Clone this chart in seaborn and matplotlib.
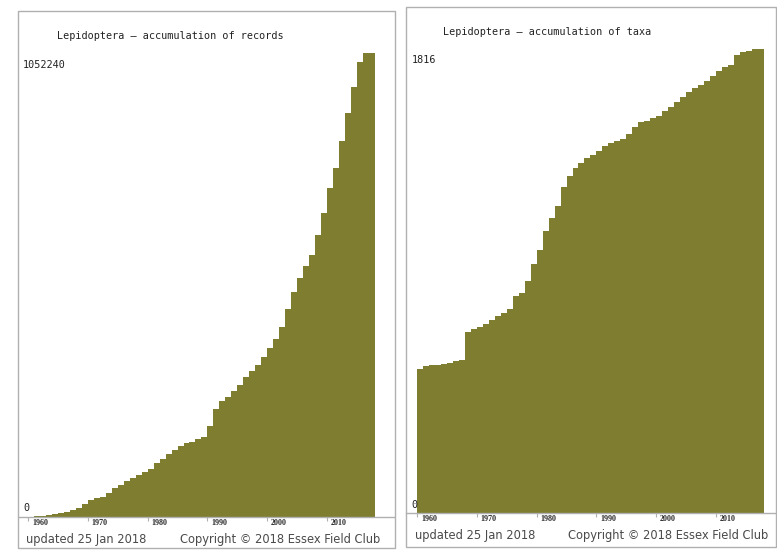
import matplotlib
matplotlib.use("Agg")
import matplotlib.pyplot as plt
from matplotlib.patches import Rectangle
import seaborn as sns

# Data (cumulative totals per year)
years = list(range(1960, 2018))
records = [1600, 2000, 2500, 4500, 6800, 9100, 12700, 16600, 21800, 30800,
           39200, 43100, 46700, 55800, 66400, 73900, 82300, 88400, 95900, 103400,
           109500, 122500, 132200, 142900, 152600, 162400, 169200, 171400, 176900, 182800,
           207700, 245600, 263700, 272800, 286400, 300000, 318200, 331800, 345400, 363500,
           383900, 404300, 431600, 472400, 510900, 542700, 569900, 594800, 640200, 690100,
           746800, 792100, 854000, 916200, 976500, 1031800, 1052240, 1052240]
taxa = [562, 576, 577, 578, 581, 586, 593, 597, 709, 721,
        727, 739, 753, 770, 783, 799, 850, 859, 909, 975,
        1029, 1103, 1153, 1202, 1277, 1319, 1350, 1368, 1390, 1401,
        1417, 1436, 1449, 1457, 1465, 1482, 1512, 1530, 1535, 1545,
        1554, 1572, 1590, 1610, 1629, 1649, 1664, 1675, 1692, 1711,
        1731, 1747, 1753, 1792, 1804, 1809, 1816, 1816]
decades = [1960, 1970, 1980, 1990, 2000, 2010]

OLIVE = "#7e7d30"
GREY = "#b0b0b0"
W, H = 777, 552

fig = plt.figure(figsize=(W / 100, H / 100), dpi=100)


def rect(x0, y0, x1, y1):
    return [x0 / W, 1 - y1 / H, (x1 - x0) / W, (y1 - y0) / H]


def ftext(x, y, s, **kw):
    fig.text(x / W, 1 - y / H, s, va="center", ha="left", **kw)


def panel(box, frame, values, title, top_label, title_xy, top_xy, zero_xy, foot_y, foot_x):
    # panel border
    fx0, fy0, fx1, fy1 = frame
    fig.patches.append(Rectangle((fx0 / W, 1 - fy1 / H), (fx1 - fx0) / W, (fy1 - fy0) / H,
                                 transform=fig.transFigure, fill=False,
                                 edgecolor=GREY, linewidth=1.0))
    ax = fig.add_axes(rect(*box[0]))
    sns.barplot(x=years, y=values, ax=ax, color=OLIVE, saturation=1, width=1.0,
                errorbar=None, linewidth=0, antialiased=False)
    ax.set_xlim(*box[1])
    ax.set_ylim(0, max(values))
    ax.set_facecolor("none")
    for s in ["left", "top", "right"]:
        ax.spines[s].set_visible(False)
    ax.spines["bottom"].set_color(GREY)
    ax.spines["bottom"].set_linewidth(1.0)
    ax.set_yticks([])
    ax.set_xlabel("")
    ax.set_ylabel("")
    first = years[0]
    ax.set_xticks([d - first + 1.5 for d in decades])
    ax.set_xticklabels([str(d) for d in decades], fontsize=5.8, fontweight="bold",
                       family="Liberation Serif", color="#2a2a2a")
    ax.set_xticks([d - first - 0.5 for d in decades], minor=True)
    ax.tick_params(axis="x", which="major", length=0, pad=1.5)
    ax.tick_params(axis="x", which="minor", length=3, color=GREY, width=0.8)

    mono = dict(family="DejaVu Sans Mono", fontsize=7.3, color="#222222")
    ftext(*title_xy, title, **mono)
    ftext(*top_xy, top_label, **mono)
    ftext(*zero_xy, "0", **mono)
    foot = dict(family="DejaVu Sans", fontsize=8.3, color="#4a4a4a")
    ftext(foot_x[0], foot_y, "updated 25 Jan 2018", **foot)
    ftext(foot_x[1], foot_y, "Copyright \u00a9 2018 Essex Field Club", **foot)
    return ax


# left: 1960 bar left edge at px 28.3, 5.97 px per bar
panel(box=((19, 53.3, 394, 517.3), (-0.5 - 9.3 / 5.97, -0.5 + (394 - 28.3) / 5.97)),
      frame=(18, 10.5, 394.5, 548),
      values=records, title="Lepidoptera \u2013 accumulation of records",
      top_label=f"{max(records)}", title_xy=(57, 36), top_xy=(23, 65),
      zero_xy=(23, 508), foot_y=539, foot_x=(26, 180))

# right: 1960 bar left edge at px 417.3
panel(box=((406, 49, 775, 512.7), (-0.5 - 11.3 / 5.97, -0.5 + (775 - 417.3) / 5.97)),
      frame=(406, 6.7, 775.5, 547),
      values=taxa, title="Lepidoptera \u2013 accumulation of taxa",
      top_label=f"{max(taxa)}", title_xy=(443, 32), top_xy=(412, 60),
      zero_xy=(411.5, 505), foot_y=536, foot_x=(415, 568))

fig.savefig("out.png", dpi=100, facecolor="white")
